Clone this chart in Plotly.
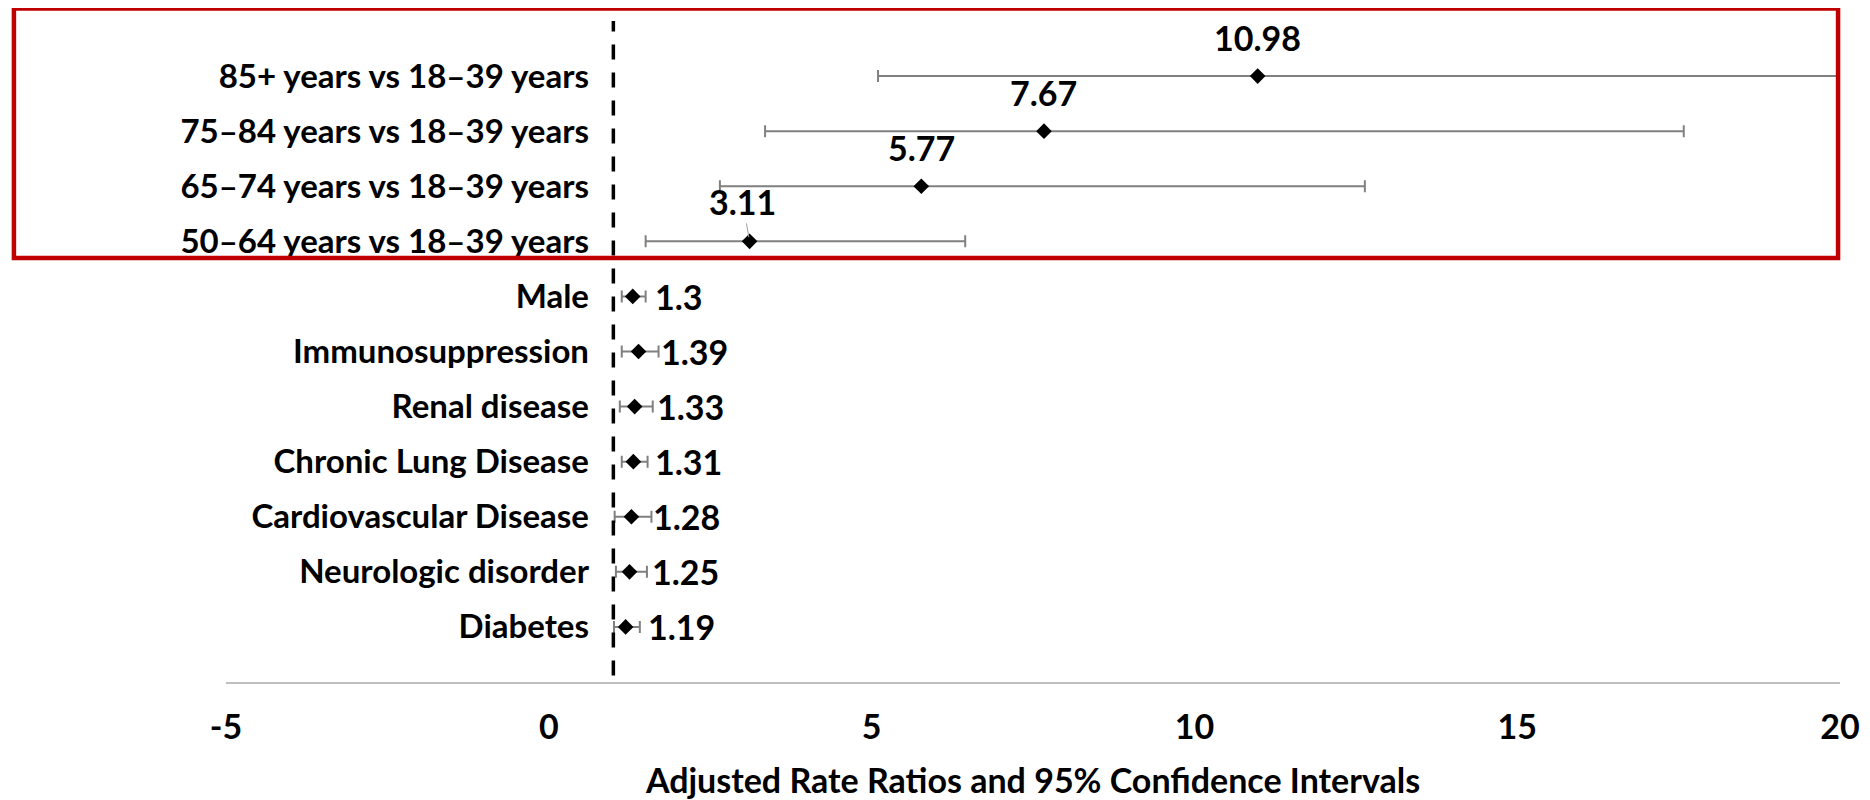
import plotly.graph_objects as go

# ---- data (bottom -> top) ----
CATEGORIES = [
    "Diabetes",
    "Neurologic disorder",
    "Cardiovascular Disease",
    "Chronic Lung Disease",
    "Renal disease",
    "Immunosuppression",
    "Male",
    "50–64 years vs 18–39 years",
    "65–74 years vs 18–39 years",
    "75–84 years vs 18–39 years",
    "85+ years vs 18–39 years",
]
RATE_RATIO = [1.19, 1.25, 1.28, 1.31, 1.33, 1.39, 1.30, 3.11, 5.77, 7.67, 10.98]
CI_LOWER = [1.01, 1.04, 1.02, 1.13, 1.10, 1.13, 1.13, 1.50, 2.65, 3.35, 5.10]
CI_UPPER = [1.41, 1.52, 1.59, 1.53, 1.61, 1.70, 1.50, 6.45, 12.64, 17.58, 20.0]
AGE_GROUPS = CATEGORIES[7:]          # labelled above the point
REF_VALUE = 1                        # null line
X_TICKS = [-5, 0, 5, 10, 15, 20]
X_TICK_TEXT = ["-5", "0", "5", "10", "15", "20"]
X_TITLE = "Adjusted Rate Ratios and 95% Confidence Intervals"

FONT = "Lato"
FS = 34
BOLD = dict(family=FONT, size=FS, color="black", weight="bold")
BOLD_Y = dict(family=FONT, size=33, color="black", weight="bold")

err_plus = [u - v for u, v in zip(CI_UPPER, RATE_RATIO)]
err_minus = [v - l for v, l in zip(RATE_RATIO, CI_LOWER)]

fig = go.Figure()
fig.add_trace(go.Scatter(
    x=RATE_RATIO, y=CATEGORIES, mode="markers",
    marker=dict(symbol="diamond", size=12, color="black"),
    error_x=dict(type="data", symmetric=False, array=err_plus, arrayminus=err_minus,
                 color="#808080", thickness=2, width=6),
    showlegend=False, hoverinfo="skip",
))

annotations = []
for cat, v in zip(CATEGORIES, RATE_RATIO):
    txt = f"{v:g}"
    if cat in AGE_GROUPS:
        if v < 4:
            annotations.append(dict(x=v, y=cat, xref="x", yref="y", text=txt,
                                    showarrow=True, arrowhead=0, arrowwidth=1,
                                    arrowcolor="#a0a0a0", ax=-7, ay=-40, standoff=4,
                                    font=BOLD))
        else:
            annotations.append(dict(x=v, y=cat, xref="x", yref="y", text=txt,
                                    showarrow=False, yshift=39, font=BOLD))
    else:
        annotations.append(dict(x=v, y=cat, xref="x", yref="y", text=txt,
                                showarrow=False, xanchor="left", xshift=20, font=BOLD))

shapes = [
    dict(type="line", xref="x", yref="paper", x0=REF_VALUE, x1=REF_VALUE, y0=0.01, y1=1.0,
         line=dict(color="black", width=3.5, dash="15px,13px")),
    dict(type="rect", xref="paper", yref="paper", x0=-0.1314, x1=0.9988, y0=0.6415, y1=1.019,
         line=dict(color="#c00000", width=4.5), fillcolor="rgba(0,0,0,0)", layer="above"),
]

fig.update_layout(
    width=1862, height=792,
    margin=dict(l=218, r=30, t=13, b=118),
    paper_bgcolor="white", plot_bgcolor="white",
    font=BOLD,
    xaxis=dict(range=[-5, 20], tickvals=X_TICKS, ticktext=X_TICK_TEXT,
               showgrid=False, zeroline=False,
               showline=True, linecolor="#bfbfbf", linewidth=2, ticks="",
               tickfont=BOLD, ticklabelstandoff=14, automargin=False,
               title=dict(text=X_TITLE, standoff=36, font=BOLD)),
    yaxis=dict(type="category", categoryorder="array", categoryarray=CATEGORIES,
               range=[-1, 11], anchor="free", position=0.2249, showline=False,
               showgrid=False, zeroline=False, ticks="", automargin=False,
               tickfont=BOLD_Y),
    annotations=annotations,
    shapes=shapes,
)

fig.write_html("out.html")
